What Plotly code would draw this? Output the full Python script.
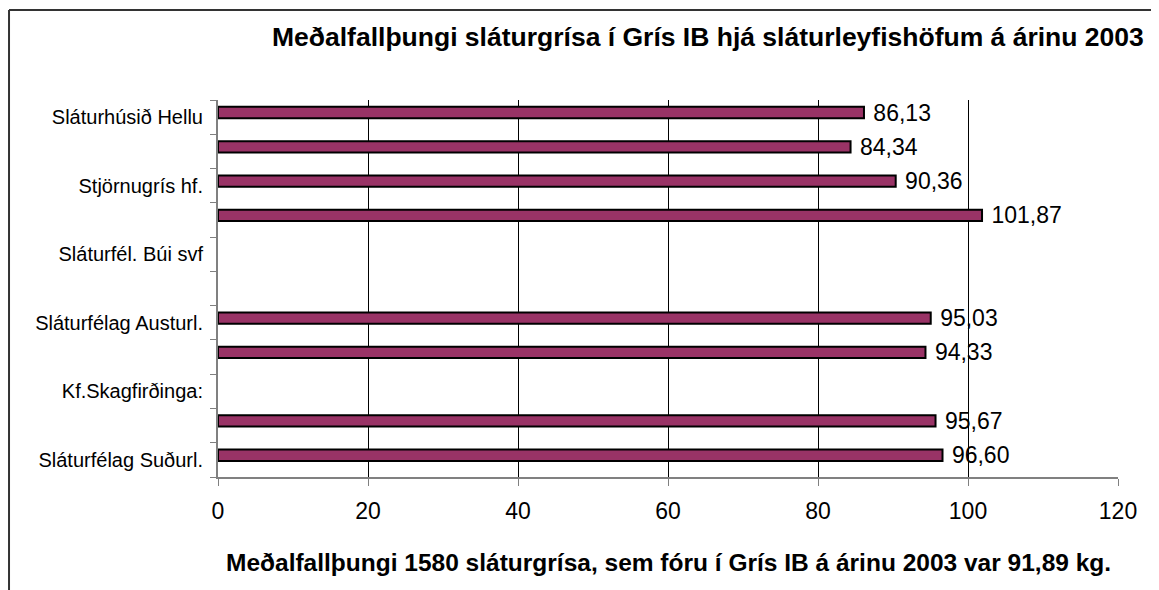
import plotly.graph_objects as go

# ---- data ----
categories = [
    "Sláturhúsið Hellu", "", "Stjörnugrís hf.", "", "Sláturfél. Búi svf", "",
    "Sláturfélag Austurl.", "", "Kf.Skagfirðinga:", "", "Sláturfélag Suðurl.",
]
values = [86.13, 84.34, 90.36, 101.87, None, None, 95.03, 94.33, None, 95.67, 96.60]
x_ticks = [0, 20, 40, 60, 80, 100, 120]
chart_title = "Meðalfallþungi sláturgrísa í Grís IB hjá sláturleyfishöfum á árinu 2003"
x_title = "Meðalfallþungi 1580 sláturgrísa, sem fóru í Grís IB á árinu 2003 var 91,89 kg."

FONT = "Arial, Liberation Sans, sans-serif"
positions = list(range(len(categories)))
label_pos = [p for p, c in zip(positions, categories) if c]
label_txt = [c for c in categories if c]
boundaries = [p - 0.5 for p in positions] + [positions[-1] + 0.5]

fig = go.Figure(go.Bar(
    y=positions, x=values, orientation="h",
    marker=dict(color="#993366", line=dict(color="black", width=2)),
    width=0.33, offset=-0.3,
    texttemplate="\u00a0%{x:.2f}", textposition="outside",
    constraintext="none",
    textfont=dict(size=23, color="black", family=FONT),
    cliponaxis=False, showlegend=False, hoverinfo="skip",
))

fig.update_layout(
    width=1151, height=582,
    margin=dict(l=210, r=41, t=92, b=113),
    paper_bgcolor="white", plot_bgcolor="white",
    separators=", ",
    font=dict(family=FONT, color="black"),
    xaxis=dict(
        range=[0, 120], tickmode="array", tickvals=x_ticks,
        showgrid=True, gridcolor="#000000", gridwidth=1,
        showline=True, linecolor="#808080", linewidth=2,
        ticks="outside", ticklen=7, tickcolor="#808080", tickwidth=1,
        tickfont=dict(size=23, family=FONT, color="black"),
        zeroline=False, ticklabelstandoff=5,
    ),
    yaxis=dict(
        range=[positions[-1] + 0.5, -0.5],
        tickmode="array", tickvals=label_pos, ticktext=label_txt,
        ticks="", showgrid=False, zeroline=False,
        showline=True, linecolor="#808080", linewidth=2,
        tickfont=dict(size=20, family=FONT, color="black"),
        ticklabelstandoff=9,
        minor=dict(tickmode="array", tickvals=boundaries, ticks="outside",
                   ticklen=6, tickcolor="#808080", tickwidth=1, showgrid=False),
    ),
    annotations=[
        dict(text="<b>" + chart_title + "</b>", xref="paper", yref="paper",
             x=0.5444, y=1.1658, xanchor="center", yanchor="middle",
             showarrow=False, font=dict(size=26.5, family=FONT, color="black")),
        dict(text="<b>" + x_title + "</b>", xref="paper", yref="paper",
             x=0.5, y=-0.2255, xanchor="center", yanchor="middle",
             showarrow=False, font=dict(size=24.5, family=FONT, color="black")),
    ],
    shapes=[
        dict(type="line", xref="paper", yref="paper", x0=-0.2322, x1=1.1,
             y0=1.2387, y1=1.2387, line=dict(color="#333333", width=2)),
        dict(type="line", xref="paper", yref="paper", x0=-0.2322, x1=-0.2322,
             y0=1.2387, y1=-0.35, line=dict(color="#333333", width=2)),
    ],
)

fig.write_html("out.html")
